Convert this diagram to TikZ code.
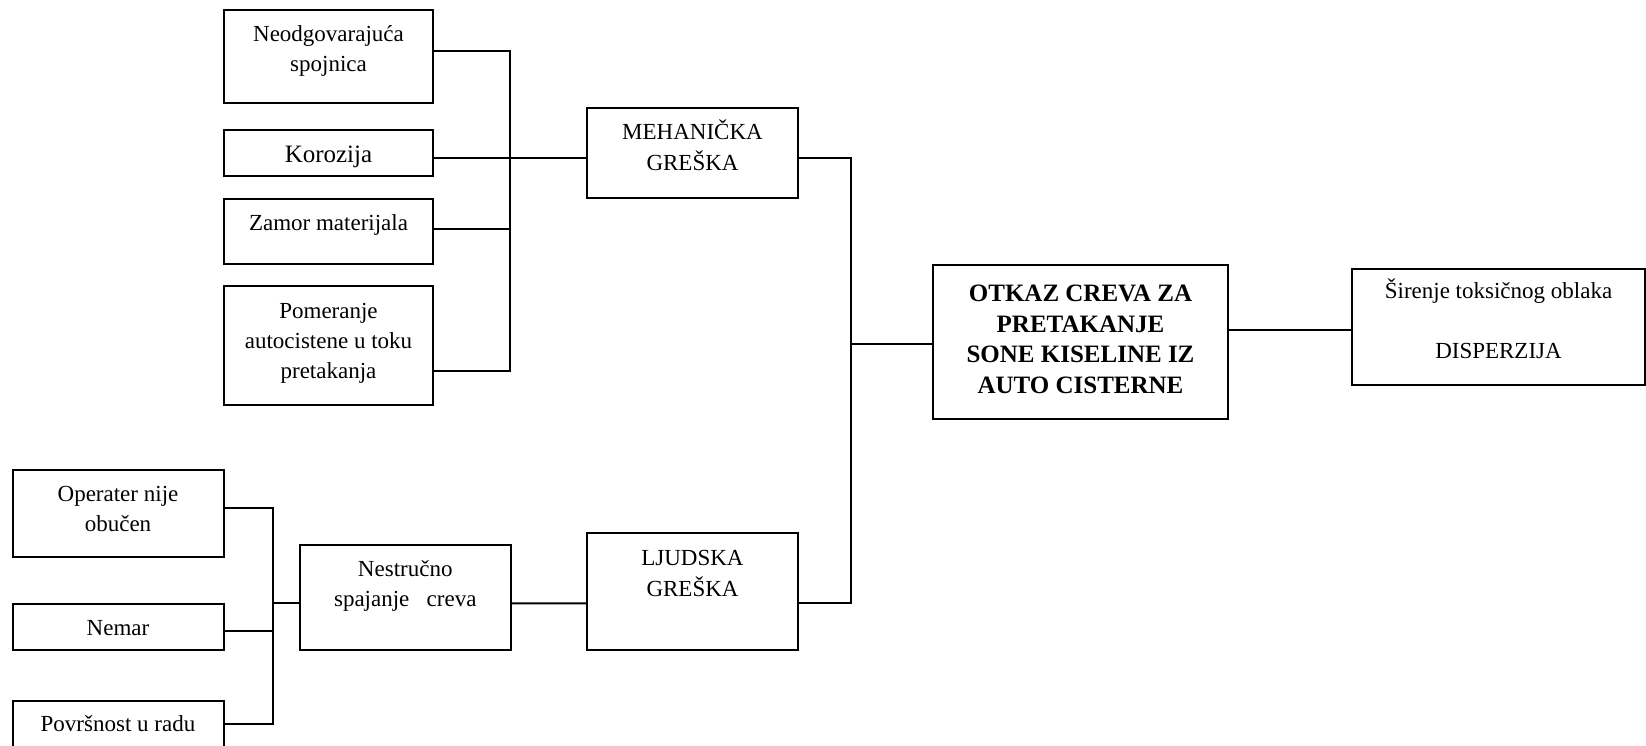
\documentclass[tikz,border=0pt]{standalone}
\usepackage{fontspec}
\setmainfont{Liberation Serif}
\begin{document}
\begin{tikzpicture}[x=1pt,y=-1pt,
  box/.style={draw, line width=2pt, inner sep=0pt},
  lbl/.style={font=\fontsize{23}{30}\selectfont, align=center, inner sep=0pt, anchor=base},
  hdr/.style={font=\fontsize{25}{30.5}\selectfont\bfseries, align=center, inner sep=0pt, anchor=base},
  wire/.style={line width=2pt}]
\useasboundingbox (0,0) rectangle (1646,745);

% mechanical causes
\node[box, minimum width=209pt, minimum height=93pt]   (neo) at (328.5,56) {};
\node[box, minimum width=209pt, minimum height=46pt]   (kor) at (328.5,152.5) {};
\node[box, minimum width=209pt, minimum height=65.5pt] (zam) at (328.5,231.25) {};
\node[box, minimum width=209pt, minimum height=119pt]  (pom) at (328.5,345.5) {};
\node[box, minimum width=211pt, minimum height=90pt]   (meh) at (692.5,153) {};

% human causes
\node[box, minimum width=211pt, minimum height=87pt]   (ope) at (118,513) {};
\node[box, minimum width=211pt, minimum height=46.5pt] (nem) at (118,626.75) {};
\node[box, minimum width=211pt, minimum height=69pt]   (pov) at (118,735.5) {};
\node[box, minimum width=210.5pt, minimum height=105.5pt] (nes) at (405.25,597.25) {};
\node[box, minimum width=211pt, minimum height=117pt]  (lju) at (692.5,591.5) {};

% top event and consequence
\node[box, minimum width=295pt, minimum height=154.5pt] (otk) at (1080.5,341.75) {};
\node[box, minimum width=293pt, minimum height=116.5pt] (sir) at (1498.5,326.75) {};

% texts (positioned at the baseline of their last line)
\node[lbl] (neo-t) at (328.5,71.7)  {Neodgovarajuća\\spojnica};
\node[lbl, font=\fontsize{25}{30}\selectfont] (kor-t) at (328.5,162.5) {Korozija};
\node[lbl] (zam-t) at (328.5,230)   {Zamor materijala};
\node[lbl] (pom-t) at (328.5,378.3) {Pomeranje\\autocistene u toku\\pretakanja};
\node[lbl, font=\fontsize{23}{31}\selectfont] (meh-t) at (692.5,170) {MEHANIČKA\\GREŠKA};
\node[lbl] (ope-t) at (118,531.7)   {Operater nije\\obučen};
\node[lbl] (nem-t) at (118,635)     {Nemar};
\node[lbl] (pov-t) at (118,731.7)   {Površnost u radu};
\node[lbl] (nes-t) at (405.25,606.7) {Nestručno\\spajanje\ \ \ creva};
\node[lbl, font=\fontsize{23}{31.5}\selectfont] (lju-t) at (692.5,596.7) {LJUDSKA\\GREŠKA};
\node[hdr] (otk-t) at (1080.5,393.3) {OTKAZ CREVA ZA\\PRETAKANJE\\SONE KISELINE IZ\\AUTO CISTERNE};
\node[lbl] (sir-t) at (1498.5,358)  {Širenje toksičnog oblaka\\[30pt]DISPERZIJA};

% connector ends
\coordinate (neo-o) at ([yshift=5.3pt]neo.east);
\coordinate (kor-o) at ([yshift=-5.2pt]kor.east);
\coordinate (zam-o) at ([yshift=2pt]zam.east);
\coordinate (pom-o) at ([yshift=-25.5pt]pom.east);
\coordinate (meh-i) at ([yshift=-4.7pt]meh.west);
\coordinate (meh-o) at ([yshift=-4.7pt]meh.east);
\coordinate (ope-o) at ([yshift=4.7pt]ope.east);
\coordinate (nem-o) at ([yshift=-4.25pt]nem.east);
\coordinate (pov-o) at ([yshift=11.5pt]pov.east);
\coordinate (nes-i) at ([yshift=-6pt]nes.west);
\coordinate (nes-o) at ([yshift=-6pt]nes.east);
\coordinate (lju-i) at ([yshift=-11.8pt]lju.west);
\coordinate (lju-o) at ([yshift=-11.8pt]lju.east);
\coordinate (otk-i) at ([yshift=-2.5pt]otk.west);
\coordinate (otk-o) at ([yshift=11.75pt]otk.east);
\coordinate (sir-i) at ([yshift=-3.25pt]sir.west);
\coordinate (mbus) at (510.4,0);
\coordinate (hbus) at (272.5,0);
\coordinate (tbus) at (851,0);

% connectors
\draw[wire] (neo-o) -| (mbus |- pom-o) -- (pom-o);
\draw[wire] (zam-o) -- (mbus |- zam-o);
\draw[wire] (kor-o) -- (meh-i);
\draw[wire] (ope-o) -| (hbus |- pov-o) -- (pov-o);
\draw[wire] (nem-o) -- (hbus |- nem-o);
\draw[wire] (hbus |- nes-i) -- (nes-i);
\draw[wire] (nes-o) -- (lju-i);
\draw[wire] (meh-o) -| (tbus |- lju-o) -- (lju-o);
\draw[wire] (tbus |- otk-i) -- (otk-i);
\draw[wire] (otk-o) -- (sir-i);
\end{tikzpicture}
\end{document}
